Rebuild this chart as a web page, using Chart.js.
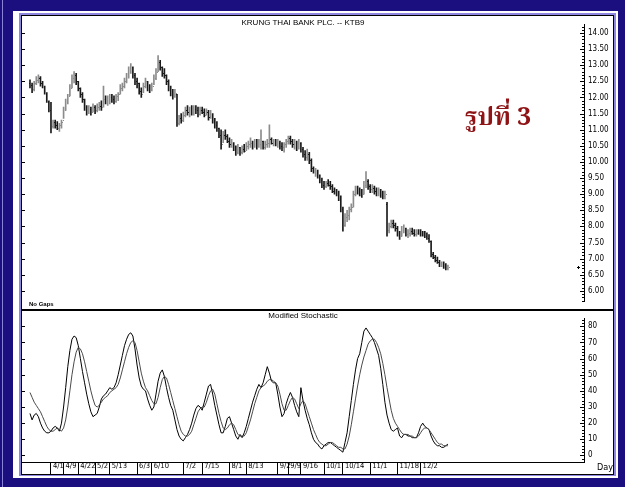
<!DOCTYPE html>
<html>
<head>
<meta charset="utf-8">
<script src="https://cdn.jsdelivr.net/npm/chart.js@4.4.0/dist/chart.umd.min.js"></script>
<style>
body { margin: 0; width: 625px; height: 487px; background: #1b0f80; position: relative; overflow: hidden; font-family: 'Liberation Sans', Arial, sans-serif; }
#edge { position: absolute; left: 2px; top: 0; width: 1px; height: 487px; background: #8a84d8; }
#frame { position: absolute; left: 13px; top: 11px; width: 605px; height: 467px; background: #fff; }
#lav { position: absolute; left: 19px; top: 13px; width: 597px; height: 463px; border: 2px solid #8c86e0; box-sizing: border-box; }
#box { position: absolute; left: 21px; top: 15px; width: 593px; height: 460px; border: 1px solid #000; box-sizing: border-box; background: #fff; }
canvas { position: absolute; left: 22px; }
#priceCanvas { top: 16px; }
#stochCanvas { top: 310px; }
#divider { position: absolute; left: 22px; top: 309px; width: 591px; height: 2px; background: #000; }
.txt { position: absolute; color: #000; white-space: nowrap; }
#title { left: 22px; width: 562px; top: 18px; text-align: center; font-size: 8px; }
#sub { left: 22px; width: 562px; top: 311px; text-align: center; font-size: 8px; }
#gaps { left: 29px; top: 301px; font-size: 6px; font-weight: bold; }
#day { left: 597px; top: 462px; font-size: 9px; font-family: 'DejaVu Sans Condensed', 'Liberation Sans Narrow', 'Liberation Sans', sans-serif; }
#thai { left: 465px; top: 98px; font-size: 25px; font-weight: bold; color: #8e1416; font-family: 'Noto Serif Thai', 'Noto Sans Thai', 'Liberation Serif', serif; }
</style>
</head>
<body>
<div id="edge"></div>
<div id="frame"></div>
<div id="lav"></div>
<div id="box"></div>
<canvas id="priceCanvas" width="591" height="294"></canvas>
<canvas id="stochCanvas" width="591" height="164"></canvas>
<div id="divider"></div>
<div class="txt" id="title">KRUNG THAI BANK PLC. -- KTB9</div>
<div class="txt" id="sub">Modified Stochastic</div>
<div class="txt" id="gaps">No Gaps</div>
<div class="txt" id="day">Day</div>
<div class="txt" id="thai">รูปที่ 3</div>
<script>
const opens = [
  12.45,12.40,12.25,12.45,12.55,12.60,12.45,12.30,12.10,11.85,
  11.60,11.10,11.25,11.15,11.05,11.15,11.30,11.60,11.85,12.05,
  12.30,12.60,12.70,12.50,12.30,12.10,11.95,11.70,11.55,11.65,
  11.55,11.70,11.60,11.70,11.75,11.70,11.95,11.90,11.95,12.00,
  11.95,11.90,12.05,12.10,12.30,12.35,12.50,12.65,12.85,12.95,
  12.70,12.50,12.45,12.20,12.10,12.35,12.50,12.30,12.25,12.35,
  12.60,12.80,13.10,12.95,12.75,12.70,12.50,12.30,12.15,12.05,
  12.10,11.20,11.35,11.30,11.45,11.60,11.55,11.65,11.55,11.65,
  11.60,11.50,11.60,11.55,11.45,11.55,11.40,11.50,11.30,11.15,
  11.05,10.85,10.55,10.85,10.80,10.65,10.55,10.60,10.40,10.30,
  10.45,10.30,10.40,10.35,10.50,10.55,10.60,10.50,10.60,10.50,
  10.55,10.65,10.45,10.55,10.60,10.70,10.60,10.65,10.55,10.60,
  10.50,10.45,10.55,10.65,10.75,10.65,10.55,10.60,10.45,10.60,
  10.40,10.25,10.15,10.25,10.05,9.80,9.70,9.75,9.60,9.45,
  9.30,9.25,9.35,9.30,9.25,9.10,9.10,9.05,8.90,8.55,
  8.05,8.30,8.35,8.55,8.60,9.00,9.15,9.10,9.05,9.00,
  9.30,9.40,9.25,9.15,9.20,9.10,9.05,9.10,9.00,8.95,
  8.70,7.90,8.00,8.10,8.05,7.95,7.80,7.70,7.90,7.95,
  7.75,7.80,7.85,7.80,7.75,7.80,7.80,7.75,7.75,7.70,
  7.65,7.55,7.15,7.05,6.95,6.90,6.80,6.85,6.75,6.70
];
const highs = [
  12.55,12.45,12.50,12.65,12.70,12.65,12.50,12.35,12.15,11.90,
  11.85,11.30,11.30,11.25,11.20,11.30,11.70,11.95,12.10,12.40,
  12.70,12.80,12.75,12.50,12.30,12.15,11.95,11.75,11.75,11.70,
  11.80,11.75,11.80,11.85,11.90,12.35,12.05,12.05,12.10,12.10,
  12.05,12.10,12.15,12.40,12.45,12.60,12.75,12.95,13.05,12.95,
  12.75,12.60,12.45,12.30,12.45,12.60,12.50,12.40,12.45,12.70,
  12.90,13.30,13.15,12.95,12.90,12.70,12.55,12.35,12.25,12.25,
  12.10,11.45,11.50,11.55,11.70,11.75,11.70,11.75,11.75,11.75,
  11.70,11.70,11.70,11.65,11.65,11.60,11.60,11.50,11.35,11.25,
  11.05,11.00,10.95,11.00,10.85,10.75,10.70,10.60,10.50,10.55,
  10.45,10.50,10.55,10.60,10.65,10.75,10.65,10.70,10.70,10.70,
  11.00,10.65,10.65,10.70,11.15,10.75,10.70,10.70,10.70,10.65,
  10.60,10.60,10.70,10.80,10.80,10.70,10.70,10.65,10.70,10.60,
  10.45,10.35,10.40,10.30,10.10,9.85,9.80,9.75,9.60,9.50,
  9.40,9.40,9.45,9.40,9.30,9.20,9.15,9.10,8.95,8.60,
  8.40,8.50,8.60,8.70,9.10,9.25,9.25,9.20,9.15,9.40,
  9.70,9.45,9.30,9.30,9.25,9.20,9.20,9.15,9.10,9.10,
  8.75,8.10,8.20,8.20,8.10,8.00,7.85,8.00,8.05,7.95,
  7.90,7.95,7.95,7.90,7.90,7.90,7.90,7.85,7.85,7.80,
  7.75,7.55,7.20,7.10,7.05,6.95,6.90,6.90,6.85,6.80
];
const lows = [
  12.30,12.15,12.20,12.40,12.45,12.35,12.30,12.10,11.85,11.55,
  10.90,11.05,11.05,11.00,10.95,11.05,11.35,11.60,11.80,12.05,
  12.30,12.45,12.40,12.20,12.00,11.85,11.60,11.45,11.50,11.45,
  11.55,11.50,11.55,11.60,11.60,11.70,11.80,11.75,11.80,11.85,
  11.80,11.85,11.90,12.10,12.20,12.30,12.45,12.60,12.75,12.60,
  12.40,12.30,12.10,12.00,12.15,12.30,12.20,12.15,12.20,12.40,
  12.55,12.80,12.85,12.65,12.60,12.40,12.20,12.05,11.95,12.00,
  11.10,11.15,11.20,11.25,11.40,11.45,11.40,11.45,11.45,11.50,
  11.40,11.45,11.50,11.40,11.45,11.30,11.35,11.20,11.05,10.95,
  10.75,10.40,10.60,10.70,10.60,10.45,10.45,10.35,10.20,10.25,
  10.20,10.25,10.30,10.35,10.40,10.45,10.40,10.45,10.40,10.45,
  10.40,10.40,10.40,10.45,10.45,10.55,10.50,10.50,10.45,10.40,
  10.35,10.30,10.45,10.55,10.55,10.45,10.40,10.35,10.40,10.30,
  10.15,10.05,10.05,9.95,9.70,9.65,9.55,9.50,9.35,9.20,
  9.15,9.20,9.25,9.15,9.05,9.00,8.95,8.80,8.45,7.85,
  8.00,8.15,8.20,8.45,8.60,8.95,9.00,8.95,8.90,9.00,
  9.20,9.15,9.05,9.05,9.00,8.95,8.95,8.90,8.85,8.85,
  7.70,7.80,7.95,7.95,7.85,7.70,7.60,7.70,7.80,7.70,
  7.65,7.70,7.75,7.70,7.70,7.75,7.70,7.70,7.65,7.60,
  7.50,7.05,7.00,6.90,6.85,6.75,6.75,6.70,6.65,6.65
];
const closes = [
  12.40,12.25,12.45,12.55,12.65,12.45,12.35,12.15,11.90,11.60,
  11.10,11.25,11.15,11.05,11.15,11.25,11.60,11.85,12.05,12.30,
  12.60,12.70,12.50,12.30,12.10,11.95,11.70,11.55,11.65,11.55,
  11.70,11.60,11.70,11.75,11.70,11.95,11.90,11.95,12.00,11.95,
  11.90,12.05,12.10,12.30,12.35,12.50,12.65,12.85,12.95,12.70,
  12.50,12.45,12.20,12.10,12.35,12.50,12.30,12.25,12.35,12.60,
  12.80,13.10,12.95,12.75,12.70,12.50,12.30,12.15,12.05,12.15,
  11.20,11.35,11.30,11.45,11.60,11.55,11.65,11.55,11.65,11.60,
  11.50,11.60,11.55,11.45,11.55,11.40,11.50,11.30,11.15,11.05,
  10.85,10.55,10.85,10.80,10.65,10.55,10.60,10.40,10.30,10.45,
  10.30,10.40,10.35,10.50,10.55,10.60,10.50,10.60,10.50,10.55,
  10.65,10.45,10.55,10.60,10.70,10.60,10.65,10.55,10.60,10.50,
  10.45,10.55,10.65,10.75,10.65,10.55,10.60,10.45,10.60,10.40,
  10.25,10.15,10.25,10.05,9.80,9.70,9.75,9.60,9.45,9.30,
  9.25,9.35,9.30,9.25,9.10,9.10,9.05,8.90,8.55,8.05,
  8.30,8.35,8.55,8.60,9.00,9.15,9.10,9.05,9.00,9.30,
  9.40,9.25,9.15,9.20,9.10,9.05,9.10,9.00,8.95,9.00,
  7.90,8.00,8.10,8.05,7.95,7.80,7.70,7.90,7.95,7.75,
  7.80,7.85,7.80,7.75,7.80,7.80,7.75,7.75,7.70,7.65,
  7.55,7.15,7.05,6.95,6.90,6.80,6.85,6.75,6.70,6.75
];
// modified stochastic, fast line and slow line
const stochK = [
  26,22,25,26,24,20,17,15,14,14,
  15,17,18,17,15,20,30,42,55,65,
  72,74,73,68,60,52,45,38,32,27,
  24,25,26,30,35,37,38,40,42,41,
  42,45,50,56,62,68,72,75,76,74,
  66,56,48,43,41,40,35,31,28,30,
  38,46,51,53,49,42,36,31,28,22,
  16,12,10,9,11,13,16,20,25,29,
  31,30,28,33,38,43,44,38,31,25,
  19,14,14,18,23,24,20,16,12,10,
  13,11,14,18,23,28,33,37,41,44,
  42,45,50,55,51,46,45,45,38,30,
  24,26,32,36,39,36,31,27,24,42,
  34,28,23,19,14,10,8,7,5,4,
  6,7,8,8,7,6,5,4,3,2,
  8,14,24,34,44,53,60,63,70,77,
  79,77,75,73,70,66,62,54,44,33,
  25,20,16,15,16,17,12,11,13,13,
  12,12,11,11,11,14,18,20,18,17,
  16,12,9,7,6,6,5,5,6,7
];
const stochD = [
  39,36,33,31,29,27,24,21,18,16,
  15,15,16,17,16,15,17,22,30,40,
  50,58,64,67,66,63,58,52,46,40,
  35,31,30,31,33,35,36,37,39,40,
  41,42,44,48,53,58,63,67,70,71,
  70,65,58,51,46,42,40,37,34,32,
  32,36,42,47,49,48,44,39,34,29,
  24,19,15,13,12,12,13,15,19,23,
  27,29,30,30,33,37,40,41,38,32,
  26,21,17,16,17,19,20,19,16,13,
  12,12,12,14,18,22,27,32,36,40,
  42,43,44,46,47,47,46,45,43,38,
  32,28,28,31,34,36,35,32,29,32,
  34,32,28,24,20,16,13,10,8,7,
  6,6,7,8,8,7,6,5,5,4,
  4,7,12,19,27,35,43,50,56,61,
  65,69,71,72,72,70,67,63,57,50,
  42,35,28,23,20,18,16,14,13,13,
  13,12,12,11,11,12,14,16,17,17,
  16,14,12,10,8,7,7,6,6,6
];
const dateLabels = ['4/1','4/9','4/22','5/2','5/13','6/3','6/10','7/2','7/15','8/1','8/13','9/2','9/9','9/16','10/1','10/14','11/1','11/18','12/2'];
const dateIdx = [10,16,23,31,38,51,58,73,82,95,103,118,123,129,140,149,162,175,186];
const priceTicks = [6.00,6.50,7.00,7.50,8.00,8.50,9.00,9.50,10.00,10.50,11.00,11.50,12.00,12.50,13.00,13.50,14.00];
const stochTicks = [0,10,20,30,40,50,60,70,80];

const X_MIN = -3.8, X_MAX = 263.8;
const AXIS_FONT = { family: "'DejaVu Sans Condensed', 'Liberation Sans Narrow', 'Liberation Sans', sans-serif", size: 8 };
const DATE_FONT = { family: "'DejaVu Sans Condensed', 'Liberation Sans Narrow', 'Liberation Sans', sans-serif", size: 7.5 };

function barColor(i) {
    return closes[i] > opens[i] ? '#8c8c8c' : '#1a1a1a';
}

// small tick marks drawn inside the plot, along the right axis and the left edge
function innerTicks(minorStep, majorStep) {
    return {
        id: 'innerTicks',
        afterDraw(chart) {
            const { ctx, chartArea, scales: { y } } = chart;
            ctx.save();
            ctx.strokeStyle = '#000';
            ctx.lineWidth = 1;
            const n = Math.round((y.max - y.min) / minorStep) + 2;
            const start = Math.ceil(y.min / minorStep) * minorStep;
            for (let k = 0; k < n; k++) {
                const v = start + k * minorStep;
                if (v > y.max) break;
                const major = Math.abs(v / majorStep - Math.round(v / majorStep)) < 1e-6;
                const py = Math.round(y.getPixelForValue(v)) + 0.5;
                const len = major ? 4 : 2;
                ctx.beginPath();
                ctx.moveTo(chartArea.right - len, py);
                ctx.lineTo(chartArea.right, py);
                if (major) {
                    ctx.moveTo(chartArea.left, py);
                    ctx.lineTo(chartArea.left + 3, py);
                }
                ctx.stroke();
            }
            ctx.restore();
        }
    };
}

const ohlcTicks = {
    id: 'ohlcTicks',
    afterDatasetsDraw(chart) {
        const { ctx, scales: { x, y } } = chart;
        ctx.save();
        ctx.lineWidth = 1;
        for (let i = 0; i < closes.length; i++) {
            const px = Math.round(x.getPixelForValue(i));
            const yo = Math.round(y.getPixelForValue(opens[i])) + 0.5;
            const yc = Math.round(y.getPixelForValue(closes[i])) + 0.5;
            ctx.strokeStyle = barColor(i);
            ctx.beginPath();
            ctx.moveTo(px - 1, yo);
            ctx.lineTo(px, yo);
            ctx.moveTo(px + 1, yc);
            ctx.lineTo(px + 2, yc);
            ctx.stroke();
        }
        // little pointer at the last price next to the axis
        const last = closes[closes.length - 1];
        const ly = Math.round(y.getPixelForValue(last));
        const ax = chart.chartArea.right - 5;
        ctx.strokeStyle = '#000';
        ctx.beginPath();
        ctx.moveTo(ax - 2, ly + 0.5);
        ctx.lineTo(ax + 1, ly + 0.5);
        ctx.moveTo(ax - 0.5, ly - 1);
        ctx.lineTo(ax - 0.5, ly + 2);
        ctx.stroke();
        ctx.restore();
    }
};

const priceChart = new Chart(document.getElementById('priceCanvas'), {
    type: 'bar',
    data: {
        datasets: [{
            data: closes.map((c, i) => ({ x: i, y: [lows[i], highs[i]] })),
            backgroundColor: closes.map((c, i) => barColor(i)),
            barThickness: 1,
            borderWidth: 0
        }]
    },
    options: {
        responsive: false,
        devicePixelRatio: 1,
        animation: false,
        layout: { padding: 0 },
        plugins: { legend: { display: false }, tooltip: { enabled: false } },
        scales: {
            x: {
                type: 'linear',
                min: X_MIN,
                max: X_MAX,
                display: false,
                offset: false
            },
            y: {
                position: 'right',
                min: 5.68,
                max: 14.255,
                afterBuildTicks: s => { s.ticks = priceTicks.map(v => ({ value: v })); },
                afterFit: s => { s.width = 29; },
                ticks: {
                    callback: v => Number(v).toFixed(2),
                    color: '#000',
                    font: AXIS_FONT,
                    padding: 4,
                    autoSkip: false
                },
                grid: { drawOnChartArea: false, drawTicks: false },
                border: { color: '#000', width: 1 }
            }
        }
    },
    plugins: [ohlcTicks, innerTicks(0.1, 0.5)]
});

const stochChart = new Chart(document.getElementById('stochCanvas'), {
    type: 'line',
    data: {
        datasets: [
            {
                data: stochD.map((v, i) => ({ x: i, y: v })),
                borderColor: '#4a4a4a',
                borderWidth: 1,
                pointRadius: 0,
                tension: 0
            },
            {
                data: stochK.map((v, i) => ({ x: i, y: v })),
                borderColor: '#000000',
                borderWidth: 1,
                pointRadius: 0,
                tension: 0
            }
        ]
    },
    options: {
        responsive: false,
        devicePixelRatio: 1,
        animation: false,
        layout: { padding: 0 },
        plugins: { legend: { display: false }, tooltip: { enabled: false } },
        scales: {
            x: {
                type: 'linear',
                min: X_MIN,
                max: X_MAX,
                afterBuildTicks: s => { s.ticks = dateIdx.map(v => ({ value: v })); },
                afterFit: s => { s.height = 12; },
                ticks: {
                    callback: (v, i) => dateLabels[i],
                    align: 'start',
                    labelOffset: 2,
                    padding: -12,
                    maxRotation: 0,
                    autoSkip: false,
                    color: '#000',
                    font: DATE_FONT
                },
                grid: { drawOnChartArea: false, tickLength: 12, color: '#000' },
                border: { color: '#000', width: 1 }
            },
            y: {
                position: 'right',
                min: -4.09,
                max: 84.67,
                afterBuildTicks: s => { s.ticks = stochTicks.map(v => ({ value: v })); },
                afterFit: s => { s.width = 29; },
                ticks: {
                    color: '#000',
                    font: AXIS_FONT,
                    padding: 4,
                    autoSkip: false
                },
                grid: { drawOnChartArea: false, drawTicks: false },
                border: { color: '#000', width: 1 }
            }
        }
    },
    plugins: [innerTicks(2, 10)]
});
</script>
</body>
</html>
